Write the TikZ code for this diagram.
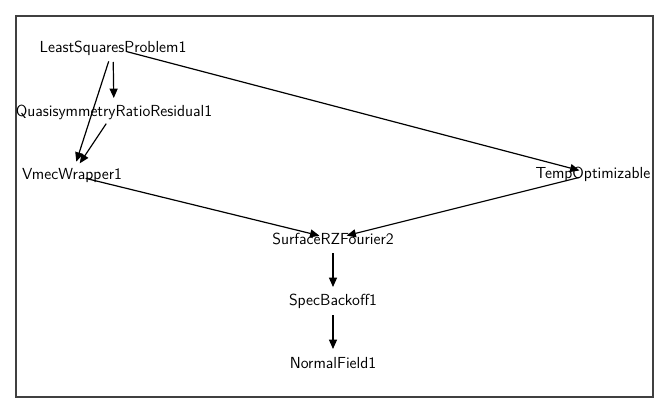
\documentclass[tikz,border=0pt]{standalone}
\usepackage{tikz}
\usetikzlibrary{positioning, arrows.meta}

\begin{document}
\begin{tikzpicture}[x=0.75pt, y=-0.75pt,
    module/.style={font=\sffamily\fontsize{12}{14}\selectfont, inner sep=0pt},
    edge/.style={-{Triangle[length=7pt, width=6pt]}, line width=0.9pt,
                 shorten <=10.5pt, shorten >=10.5pt},
    node distance=46.5pt, on grid]
    \useasboundingbox (0,0) rectangle (670,414);
    \draw[line width=0.9pt, black!75] (16,16) rectangle (653,397);

    \node[module] (lsp) at (113,48) {LeastSquaresProblem1};
    \node[module] (qrr) at (114,112) {QuasisymmetryRatioResidual1};
    \node[module] (vmec) at (72,175) {VmecWrapper1};
    \node[module] (temp) at (593,174) {TempOptimizable};
    \node[module] (surf) at (333,239) {SurfaceRZFourier2};
    \node[module, below =of surf] (spec) {SpecBackoff1};
    \node[module, below =of spec] (nf) {NormalField1};

    \draw[edge] (lsp.center) -- (qrr.center);
    \draw[edge] (lsp.center) -- (vmec.center);
    \draw[edge] (qrr.center) -- (vmec.center);
    \draw[edge] (lsp.center) -- (temp.center);
    \draw[edge] (vmec.center) -- (surf.center);
    \draw[edge] (temp.center) -- (surf.center);
    \draw[edge] (surf.center) -- (spec.center);
    \draw[edge] (spec.center) -- (nf.center);
\end{tikzpicture}
\end{document}
